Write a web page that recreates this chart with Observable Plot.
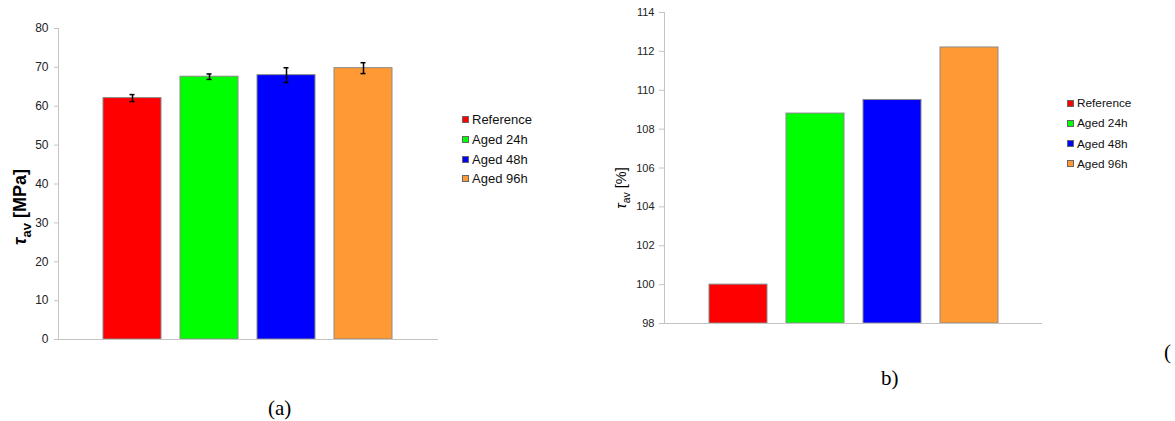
<!DOCTYPE html>
<html>
<head>
<meta charset="utf-8">
<script src="https://cdn.jsdelivr.net/npm/d3@7"></script>
<script src="https://cdn.jsdelivr.net/npm/@observablehq/plot@0.6"></script>
<style>
  html, body { margin: 0; padding: 0; background: #fff; }
  #root { position: relative; width: 1175px; height: 421px; overflow: hidden; font-family: "Liberation Sans", Arial, sans-serif; }
  .panel { position: absolute; top: 0; }
  .legend { position: absolute; color: #111; }
  .legend .row { position: absolute; left: 0; white-space: nowrap; display: flex; align-items: center; }
  .legend .sw { display: inline-block; box-sizing: border-box; border: 1px solid #666; margin-right: 3px; }
  .cap { position: absolute; font-family: "Liberation Serif", "Times New Roman", serif; font-size: 21px; color: #000; line-height: 1; }
</style>
</head>
<body>
<div id="root"></div>
<script>
// Groups and colours
const groups = ["Reference", "Aged 24h", "Aged 48h", "Aged 96h"];
const colors = ["#ff0000", "#00ff00", "#0000ff", "#ff9933"];
// Average shear strength (MPa) and its scatter
const strength = [62.1, 67.6, 68.0, 69.8];
const scatter = [0.9, 0.7, 1.9, 1.4];
// Strength relative to the reference (%)
const relative = [100, 108.8, 109.5, 112.2];
// Axis ticks
const ticksA = [0, 10, 20, 30, 40, 50, 60, 70, 80];
const ticksB = [98, 100, 102, 104, 106, 108, 110, 112, 114];

const rowsA = groups.map((g, i) => ({group: g, value: strength[i], err: scatter[i]}));
const rowsB = groups.map((g, i) => ({group: g, value: relative[i]}));
const root = document.getElementById("root");
const axisGray = "#c4c4c4";

// (a) absolute strength with error bars
const plotA = Plot.plot({
  width: 440, height: 345,
  marginLeft: 58, marginRight: 2, marginTop: 28, marginBottom: 6,
  style: {fontFamily: "Liberation Sans, Arial, sans-serif", fontSize: "12px", color: "#222", background: "transparent"},
  x: {domain: groups, range: [102, 393], paddingInner: 0.25, paddingOuter: 0, axis: null},
  y: {domain: [0, 80], ticks: ticksA, label: null, tickSize: 4, tickPadding: 6},
  color: {domain: groups, range: colors},
  marks: [
    Plot.frame({anchor: "left", stroke: axisGray}),
    Plot.barY(rowsA, {x: "group", y: "value", fill: "group", stroke: "#8a8a8a", strokeWidth: 1}),
    Plot.ruleX(rowsA, {x: "group", y1: d => d.value - d.err, y2: d => d.value + d.err, stroke: "#000", strokeWidth: 1.5}),
    Plot.tickY(rowsA, {x: "group", y: d => d.value - d.err, stroke: "#000", strokeWidth: 1.5, inset: 26.5}),
    Plot.tickY(rowsA, {x: "group", y: d => d.value + d.err, stroke: "#000", strokeWidth: 1.5, inset: 26.5}),
    Plot.ruleY([0], {stroke: axisGray, strokeWidth: 1.2})
  ]
});
plotA.classList.add("panel");
plotA.style.left = "0px";
d3.select(plotA).selectAll("g[aria-label='y-axis tick'] path, g[aria-label='y-axis tick'] line").attr("stroke", axisGray);
root.appendChild(plotA);

// (b) relative strength
const plotB = Plot.plot({
  width: 445, height: 330,
  marginLeft: 64, marginRight: 3, marginTop: 12, marginBottom: 7,
  style: {fontFamily: "Liberation Sans, Arial, sans-serif", fontSize: "11px", color: "#222", background: "transparent"},
  x: {domain: groups, range: [108, 399], paddingInner: 0.25, paddingOuter: 0, axis: null},
  y: {domain: [98, 114], ticks: ticksB, label: null, tickSize: 5, tickPadding: 5},
  color: {domain: groups, range: colors},
  marks: [
    Plot.frame({anchor: "left", stroke: axisGray}),
    Plot.barY(rowsB, {x: "group", y1: 98, y2: "value", fill: "group", stroke: "#8a8a8a", strokeWidth: 1}),
    Plot.ruleY([98], {stroke: axisGray, strokeWidth: 1.2})
  ]
});
plotB.classList.add("panel");
plotB.style.left = "600px";
d3.select(plotB).selectAll("g[aria-label='y-axis tick'] path, g[aria-label='y-axis tick'] line").attr("stroke", axisGray);
root.appendChild(plotB);

// Rotated y titles with italic tau and subscript
function yTitle(svg, x, y, size, weight, unit) {
  const t = d3.select(svg).append("text")
    .attr("transform", `translate(${x},${y}) rotate(-90)`)
    .attr("text-anchor", "middle")
    .attr("fill", "#000")
    .style("font-family", "Liberation Sans, Arial, sans-serif")
    .style("font-size", size + "px")
    .style("font-weight", weight);
  t.append("tspan").style("font-style", "italic").text("τ");
  t.append("tspan").attr("dy", size * 0.3).style("font-size", (size * 0.72) + "px").text("av");
  t.append("tspan").attr("dy", -size * 0.3).text(" " + unit);
}
yTitle(plotA, 26, 207, 18, "bold", "[MPa]");
yTitle(plotB, 26, 188, 14.5, "normal", "[%]");

// Legends
function legend(left, top, gap, size, sw) {
  const box = document.createElement("div");
  box.className = "legend";
  box.style.left = left + "px";
  box.style.top = top + "px";
  box.style.fontSize = size + "px";
  groups.forEach((g, i) => {
    const row = document.createElement("div");
    row.className = "row";
    row.style.top = (i * gap) + "px";
    const s = document.createElement("span");
    s.className = "sw";
    s.style.width = sw + "px";
    s.style.height = sw + "px";
    s.style.background = colors[i];
    row.appendChild(s);
    row.appendChild(document.createTextNode(g));
    box.appendChild(row);
  });
  root.appendChild(box);
}
legend(462, 112, 19.8, 13, 7);
legend(1067, 96, 20.3, 11.8, 7);

// Panel captions
function caption(text, left, top) {
  const c = document.createElement("div");
  c.className = "cap";
  c.style.left = left + "px";
  c.style.top = top + "px";
  c.textContent = text;
  root.appendChild(c);
}
caption("(a)", 268, 398);
caption("b)", 881, 368);
caption("(", 1164, 342);
</script>
</body>
</html>
